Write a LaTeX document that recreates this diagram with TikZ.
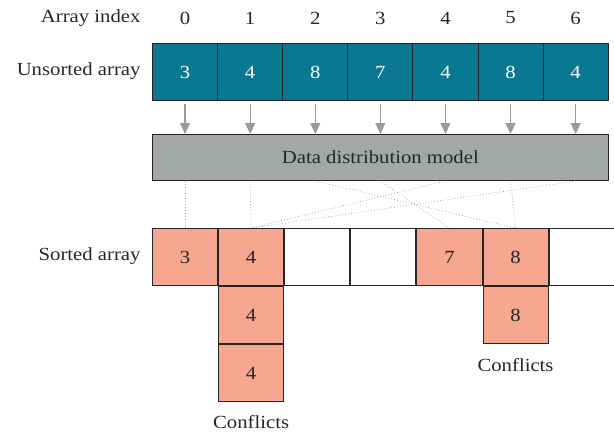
\documentclass[tikz,border=0pt]{standalone}
\usepackage{fontspec}
\setmainfont{Liberation Serif}[FakeStretch=1.12]
\usetikzlibrary{arrows.meta,positioning}
\definecolor{teal}{HTML}{0B7891}
\definecolor{salmon}{HTML}{F7A690}
\definecolor{modelgray}{HTML}{A4A7A7}
\definecolor{arrowgray}{HTML}{9A9A9A}
\definecolor{edge}{HTML}{262626}
\tikzset{
  txt/.style={font=\fontsize{18.5}{21}\selectfont, text=black!85},
  cell/.style={txt, draw=edge, line width=1pt, minimum width=65.1pt, minimum height=57pt,
    inner sep=0pt, anchor=north west},
  ucell/.style={cell, fill=teal, text=white},
  hit/.style={cell, fill=salmon},
  emptycell/.style={cell, fill=white},
  rowlabel/.style={txt, anchor=east},
  feed/.style={draw=arrowgray, line width=1.2pt, -{Triangle[width=10pt,length=11pt]}},
  route/.style={draw=black!40, line width=0.7pt, dash pattern=on 0.7pt off 2.2pt}
}
\begin{document}
\begin{tikzpicture}[x=1pt,y=-1pt]
\useasboundingbox (0,0) rectangle (614,432);
% unsorted row
\foreach \v [count=\i from 0] in {3,4,8,7,4,8,4} {
  \node[ucell] (u\i) at ({152+65.1*\i},43) {\v};
  \node[txt] (i\i) at (u\i |- 0,18) {\i};
}
\node[rowlabel] (lidx) at (144,18) {Array index};
\node[rowlabel] (lun) at (144,71) {Unsorted array};
% distribution model
\node[txt, draw=edge, line width=1pt, fill=modelgray, minimum width=455.7pt, minimum height=46pt,
  inner sep=0pt, anchor=north west] (model) at (152,134) {Data distribution model};
\foreach \i in {0,...,6} {
  \coordinate (a\i) at ([yshift=-3pt]u\i.south);
  \draw[feed] (a\i) -- (a\i |- model.north);
}
% sorted row
\node[hit] (s0) at (152,228) {3};
\node[hit] (s1) at (s0.north east) {4};
\node[emptycell] (s2) at (s1.north east) {};
\node[emptycell] (s3) at (s2.north east) {};
\node[hit] (s4) at (s3.north east) {7};
\node[hit] (s5) at (s4.north east) {8};
\node[emptycell] (s6) at (s5.north east) {};
\node[hit] (c1a) at (s1.south west) {4};
\node[hit] (c1b) at (c1a.south west) {4};
\node[hit] (c5a) at (s5.south west) {8};
\node[rowlabel] (lso) at (144,256) {Sorted array};
\node[txt] (k1) at (c1b.south |- 0,422) {Conflicts};
\node[txt] (k5) at (c5a.south |- 0,365) {Conflicts};
% routing from the model to sorted slots
\foreach \f/\t in {0/0,1/1,2/5,3/4,4/1,5/5,6/1} {
  \coordinate (m\f) at (u\f |- model.south);
  \draw[route] (m\f) -- (s\t.north);
}
\end{tikzpicture}
\end{document}
